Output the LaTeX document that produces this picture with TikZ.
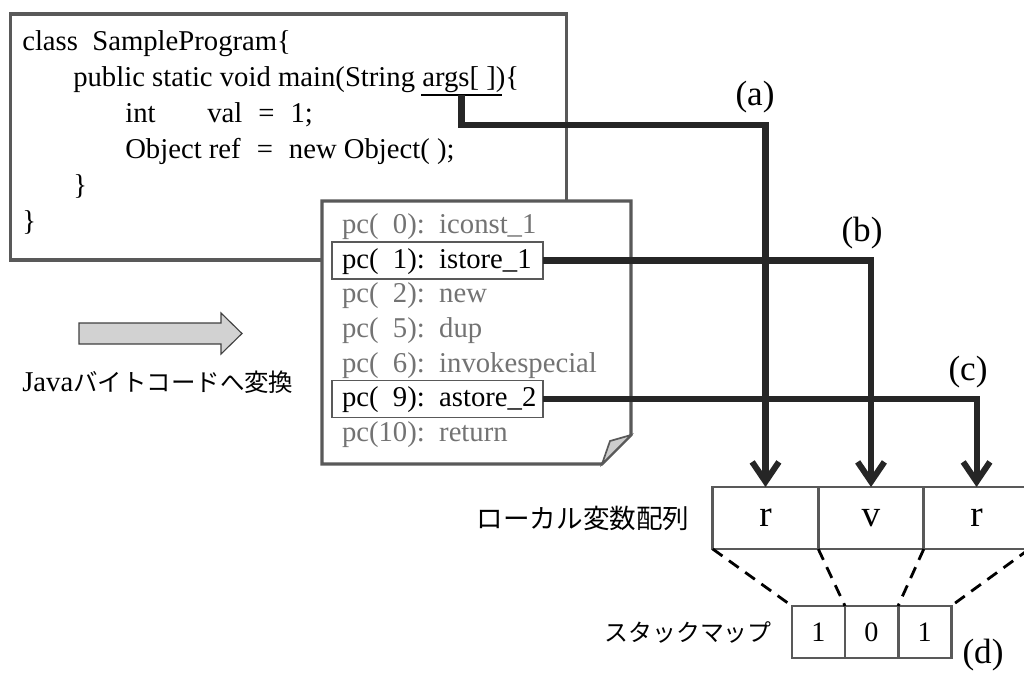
\documentclass[tikz,border=0pt]{standalone}
\usepackage{fontspec}
\setmainfont{Liberation Serif}
\newfontfamily\jpfont{Noto Sans CJK JP}
\usetikzlibrary{arrows.meta, positioning}

\begin{document}
\begin{tikzpicture}[x=0.025cm, y=-0.025cm,
    codefont/.style={font=\fontsize{20.4}{24}\selectfont},
    codeline/.style={codefont, anchor=base west, inner sep=0pt},
    opline/.style={codefont, anchor=base west, inner xsep=0.25cm,
        inner ysep=0pt, text height=0.65cm, text depth=0.275cm, outer sep=0pt},
    opgray/.style={opline, text=black!55},
    ophit/.style={opline, draw=black!65, line width=1.4pt, fill=white},
    frame/.style={draw=black!65, line width=2.2pt},
    link/.style={draw=black!85, line width=4.3pt,
        -{Straight Barb[length=14pt,width=19pt]}},
    tag/.style={font=\fontsize{25}{30}\selectfont, inner sep=0pt},
    slot/.style={draw=black!65, line width=2.1pt, minimum width=2.6375cm,
        minimum height=1.55cm, outer sep=0pt, inner sep=0pt,
        font=\fontsize{26.5}{30}\selectfont},
    mapslot/.style={draw=black!65, line width=2.1pt, minimum width=1.325cm,
        minimum height=1.3cm, outer sep=0pt, inner sep=0pt,
        font=\fontsize{20}{22}\selectfont},
    mapline/.style={black, line width=2pt, dash pattern=on 8.5pt off 5.7pt},
    jplabel/.style={font=\jpfont\fontsize{18.9}{22}\selectfont, inner sep=0pt}
]
\useasboundingbox (0,0) rectangle (1024,673);

% =========================================================
%  Source code
% =========================================================
\node[frame, minimum width=13.875cm, minimum height=6.15cm, outer sep=0pt]
    (code) at (288.5,137) {};

\node[codeline] (c1) at (22,50)  {class\ \ SampleProgram\{};
\node[codeline] (c2) at (73,86)  {public static void main(String args[\ ])\{};
\node[codeline] (c3) at (125,122) {\makebox[2.05cm][l]{int}val\hspace{0.4cm}=\hspace{0.4cm}1;};
\node[codeline] (c4) at (125,158) {Object ref\hspace{0.4cm}=\hspace{0.4cm}new Object(\ );};
\node[codeline] (c5) at (73,194) {\}};
\node[codeline] (c6) at (22,230) {\}};

% underline of args[ ]
\coordinate (argsL) at (421,95);
\coordinate (argsR) at (502,95);
\coordinate (argsM) at (461.5,95);
\draw[black, line width=2pt] (argsL) -- (argsR);

% =========================================================
%  Byte code listing (sheet with folded corner)
% =========================================================
\draw[frame, fill=white]
    (322,201) -- (631,201) -- (631,435) -- (602,464) -- (322,464) -- cycle;
\filldraw[fill=gray!40, draw=black!65, line width=1.2pt]
    (602,464) -- (610,441) -- (631,435) -- cycle;

\foreach \n/\y/\t in {0/233/{pc(\ \ 0):\ \ iconst\_1},
                      2/302.5/{pc(\ \ 2):\ \ new},
                      5/337/{pc(\ \ 5):\ \ dup},
                      6/372/{pc(\ \ 6):\ \ invokespecial},
                      10/441/{pc(10):\ \ return}}
    \node[opgray] (op\n) at (332,\y) {\t};

\node[ophit] (op1) at (332,268)
    {\makebox[4.775cm][l]{pc(\ \ 1):\ \ istore\_1}};
\node[ophit] (op9) at (332,406.5)
    {\makebox[4.775cm][l]{pc(\ \ 9):\ \ astore\_2}};

% conversion arrow
\filldraw[fill=gray!35, draw=black!75, line width=0.8pt]
    (79,323) -- (221,323) -- (221,313) -- (242,333.5)
    -- (221,354) -- (221,344) -- (79,344) -- cycle;
\node[anchor=west, inner sep=0pt, codefont] (convLabel) at (22,382)
    {Java{\jpfont\fontsize{17.4}{20}\selectfont バイトコードへ変換}};

% =========================================================
%  Local variable array and stack map
% =========================================================
\node[slot] (cellA) at (765.5,518) {r};
\node[slot, right=0pt of cellA] (cellB) {v};
\node[slot, right=0pt of cellB] (cellC) {r};
\node[jplabel, left=0.575cm of cellA] (arrLabel) {ローカル変数配列};

\node[mapslot] (sm1) at (818.5,632) {1};
\node[mapslot, right=0pt of sm1] (sm2) {0};
\node[mapslot, right=0pt of sm2] (sm3) {1};
\node[jplabel, font=\jpfont\fontsize{17}{20}\selectfont, left=0.5cm of sm1]
    (smLabel) {スタックマップ};

\draw[mapline] (cellA.south west) -- (sm1.north west);
\draw[mapline] (cellB.south west) -- (sm2.north west);
\draw[mapline] (cellC.south west) -- (sm3.north west);
\draw[mapline] (cellC.south east) -- (sm3.north east);

% =========================================================
%  Connectors
% =========================================================
\coordinate (turnA) at (765.5,125);
\draw[link] (argsM) |- (turnA) -- (cellA.north);
\draw[link] (op1.east) -| (cellB.north);
\draw[link] (op9.east) -| (cellC.north);

\node[tag] (tagA) at (755,97)  {(a)};
\node[tag] (tagB) at (862,233) {(b)};
\node[tag] (tagC) at (968,372) {(c)};
\node[tag] (tagD) at (983,655) {(d)};

\end{tikzpicture}
\end{document}
